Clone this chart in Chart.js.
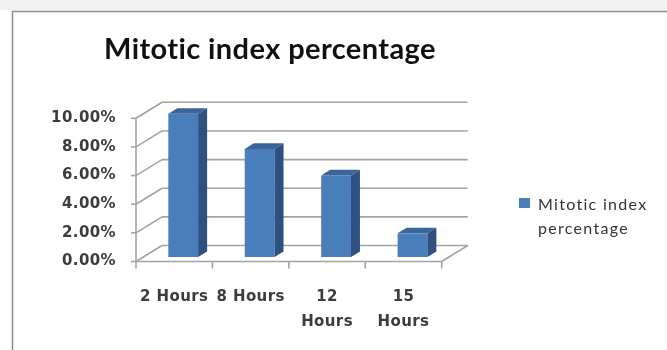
<!DOCTYPE html>
<html>
<head>
<meta charset="utf-8">
<script src="https://cdn.jsdelivr.net/npm/chart.js@4"></script>
<style>
  html, body { margin: 0; padding: 0; background: #fff; }
  #wrap { width: 667px; height: 350px; position: relative; }
</style>
</head>
<body>
<div id="wrap"><canvas id="c" width="667" height="350"></canvas></div>
<script>
// Sampling times and the mitotic index measured at each one (percent)
const categories = ['2 Hours', '8 Hours', ['12', 'Hours'], ['15', 'Hours']];
const seriesName = 'Mitotic index percentage';
const mitoticIndex = [10.0, 7.55, 5.7, 1.65];
const yTicks = [0, 2, 4, 6, 8, 10];

// Pseudo-3D geometry: back-wall offset, bar placement inside the depth, bar thickness
const WALL = { dx: 26, dy: -16 };
const BAR_SHIFT = { dx: 9, dy: -4.5 };
const BAR_DEPTH = { dx: 9, dy: -5.6 };
const BAR_FRONT = '#4a7ebb';
const BAR_SIDE = '#2f5180';
const BAR_TOP = '#3b6499';
const GRID = '#a3a3a3';

// Page backdrop, outer frame, and a touch of tracking for all chart text
const frame = {
  id: 'frame',
  beforeDraw(chart) {
    const ctx = chart.ctx;
    ctx.save();
    ctx.fillStyle = '#f1f1f1';
    ctx.fillRect(0, 0, chart.width, 10);
    ctx.fillStyle = '#ffffff';
    ctx.fillRect(0, 10, chart.width, chart.height - 10);
    ctx.strokeStyle = '#8c8c8c';
    ctx.lineWidth = 1.5;
    ctx.beginPath();
    ctx.moveTo(12.5, chart.height + 2);
    ctx.lineTo(12.5, 11.5);
    ctx.lineTo(chart.width + 2, 11.5);
    ctx.stroke();
    ctx.restore();
    if ('letterSpacing' in ctx) ctx.letterSpacing = '0.4px';
  },
  afterDraw(chart) {
    if ('letterSpacing' in chart.ctx) chart.ctx.letterSpacing = '0px';
  }
};

// Side wall, back wall gridlines, floor and the front axis lines
const walls = {
  id: 'walls',
  beforeDatasetsDraw(chart) {
    const { ctx, chartArea: { left, right, top, bottom }, scales: { x, y } } = chart;
    const seg = (x1, y1, x2, y2) => { ctx.beginPath(); ctx.moveTo(x1, y1); ctx.lineTo(x2, y2); ctx.stroke(); };
    ctx.save();
    ctx.strokeStyle = GRID;
    ctx.lineWidth = 1.6;
    y.ticks.forEach(t => {
      const py = y.getPixelForValue(t.value);
      seg(left, py, left + WALL.dx, py + WALL.dy);
      seg(left + WALL.dx, py + WALL.dy, right + WALL.dx, py + WALL.dy);
      seg(left - 5, py, left, py);
    });
    seg(left, top, left, bottom);
    seg(left, bottom, right, bottom);
    seg(right, bottom, right + WALL.dx, bottom + WALL.dy);
    const half = (x.getPixelForValue(1) - x.getPixelForValue(0)) / 2;
    for (let i = 0; i <= categories.length; i++) {
      const px = i === 0 ? x.getPixelForValue(0) - half : x.getPixelForValue(i - 1) + half;
      seg(px, bottom, px, bottom + 7);
    }
    ctx.restore();
  }
};

// Bars sit inside the floor depth and get a side face and a top face
const bars3d = {
  id: 'bars3d',
  beforeDatasetDraw(chart) {
    chart.ctx.save();
    chart.ctx.translate(BAR_SHIFT.dx, BAR_SHIFT.dy);
  },
  afterDatasetDraw(chart, args) {
    const ctx = chart.ctx;
    args.meta.data.forEach(bar => {
      const { x, y, base, width } = bar.getProps(['x', 'y', 'base', 'width'], true);
      const L = x - width / 2, R = x + width / 2;
      ctx.fillStyle = BAR_SIDE;
      ctx.beginPath();
      ctx.moveTo(R, y);
      ctx.lineTo(R + BAR_DEPTH.dx, y + BAR_DEPTH.dy);
      ctx.lineTo(R + BAR_DEPTH.dx, base + BAR_DEPTH.dy);
      ctx.lineTo(R, base);
      ctx.closePath();
      ctx.fill();
      ctx.fillStyle = BAR_TOP;
      ctx.beginPath();
      ctx.moveTo(L, y);
      ctx.lineTo(R, y);
      ctx.lineTo(R + BAR_DEPTH.dx, y + BAR_DEPTH.dy);
      ctx.lineTo(L + BAR_DEPTH.dx, y + BAR_DEPTH.dy);
      ctx.closePath();
      ctx.fill();
    });
    ctx.restore();
  }
};

// Legend on the right with the series name wrapped onto two lines
const sideLegend = {
  id: 'sideLegend',
  afterDraw(chart) {
    const ctx = chart.ctx;
    const ds = chart.data.datasets[0];
    ctx.save();
    ctx.fillStyle = ds.backgroundColor;
    ctx.fillRect(519, 198, 11, 10);
    ctx.font = '16px Lato';
    if ('letterSpacing' in ctx) ctx.letterSpacing = '1.3px';
    ctx.fillStyle = '#333333';
    ctx.textBaseline = 'alphabetic';
    const words = ds.label.split(' ');
    const lines = [];
    let cur = '';
    words.forEach(w => {
      const t = cur ? cur + ' ' + w : w;
      if (cur && ctx.measureText(t).width > 125) { lines.push(cur); cur = w; } else { cur = t; }
    });
    if (cur) lines.push(cur);
    lines.forEach((s, i) => ctx.fillText(s, 538, 209.5 + i * 24));
    ctx.restore();
  }
};

const tickFont = { family: 'DejaVu Sans', weight: 'bold', size: 15, lineHeight: 25 / 15 };

new Chart(document.getElementById('c'), {
  type: 'bar',
  data: {
    labels: categories,
    datasets: [{
      label: seriesName,
      data: mitoticIndex,
      backgroundColor: BAR_FRONT,
      borderWidth: 0,
      barPercentage: 0.39,
      categoryPercentage: 1,
      clip: false
    }]
  },
  options: {
    responsive: false,
    animation: false,
    devicePixelRatio: 1,
    layout: { padding: { left: 0, right: 127, top: 0, bottom: 0 } },
    plugins: {
      legend: { display: false },
      tooltip: { enabled: false },
      title: {
        display: true,
        text: seriesName,
        color: '#111111',
        font: { family: 'Lato', weight: 'bold', size: 29, lineHeight: 1.2 },
        padding: { top: 32.5, bottom: 51 }
      }
    },
    scales: {
      x: {
        grid: { display: false, drawTicks: false },
        border: { display: false },
        ticks: { padding: 23, maxRotation: 0, autoSkip: false, color: '#3c3c3c', font: tickFont },
        afterFit: s => { s.height = 88.5; }
      },
      y: {
        min: 0,
        max: 10,
        grid: { display: false, drawTicks: false },
        border: { display: false },
        afterBuildTicks: s => { s.ticks = yTicks.map(v => ({ value: v })); },
        afterFit: s => { s.width = 136; },
        ticks: { padding: 20, color: '#3c3c3c', font: tickFont, callback: v => v.toFixed(2) + '%' }
      },
      // empty band on the right that holds the legend column
      legendBand: {
        type: 'linear',
        position: 'right',
        grid: { display: false, drawTicks: false },
        border: { display: false },
        ticks: { display: false },
        afterFit: s => { s.width = 98.3; }
      }
    }
  },
  plugins: [frame, walls, bars3d, sideLegend]
});
</script>
</body>
</html>
